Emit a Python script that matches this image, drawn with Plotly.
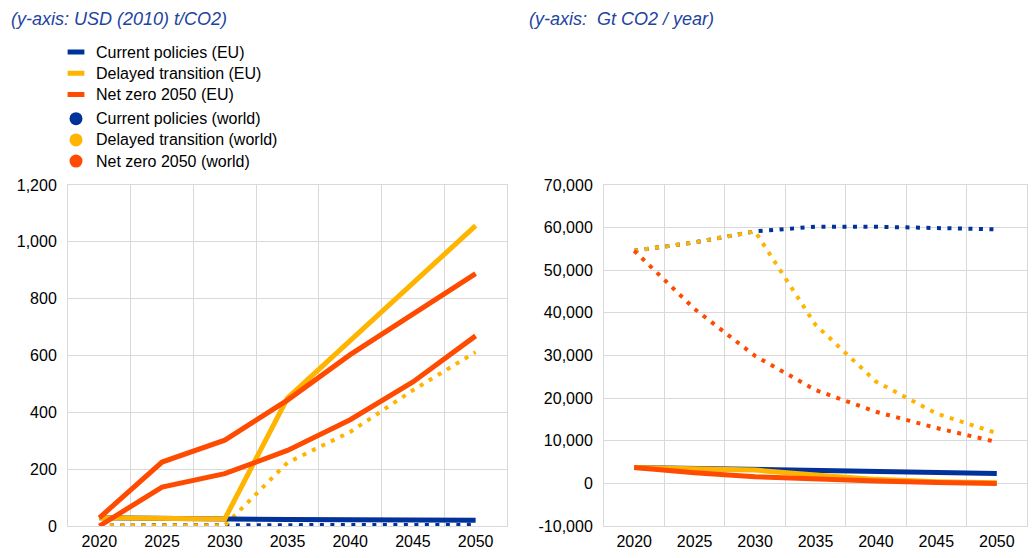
import plotly.graph_objects as go

# ---- data ----
years = [2020, 2025, 2030, 2035, 2040, 2045, 2050]
x_ticks = [2020, 2025, 2030, 2035, 2040, 2045, 2050]
x_tick_labels = ["2020", "2025", "2030", "2035", "2040", "2045", "2050"]

# Left panel: carbon price, USD (2010) / tCO2
price_eu_current = [29, 26, 25, 23, 22, 21, 20]
price_eu_delayed = [29, 26, 25, 450, 652, 855, 1057]
price_eu_netzero = [29, 225, 302, 443, 603, 748, 888]
price_world_current = [2, 2, 2, 3, 3, 3, 4]
price_world_delayed = [2, 2, 2, 223, 331, 478, 612]
price_world_netzero = [0, 137, 184, 266, 374, 507, 669]

# Right panel: emissions
em_eu_current = [3750, 3500, 3280, 2970, 2730, 2500, 2340]
em_eu_delayed = [3750, 3450, 3120, 1950, 940, 390, 150]
em_eu_netzero = [3750, 2500, 1560, 1000, 550, 230, 0]
em_world_current = [54580, 56540, 59120, 60215, 60215, 59820, 59590]
em_world_delayed = [54580, 56540, 59120, 37200, 23900, 16400, 11800]
em_world_netzero = [54580, 40900, 29900, 21900, 16800, 13000, 9700]

left_y_ticks = [0, 200, 400, 600, 800, 1000, 1200]
right_y_ticks = [-10000, 0, 10000, 20000, 30000, 40000, 50000, 60000, 70000]
right_y_labels = ["-10,000", "0", "10,000", "20,000", "30,000", "40,000", "50,000", "60,000", "70,000"]

names = ["Current policies (EU)", "Delayed transition (EU)", "Net zero 2050 (EU)",
         "Current policies (world)", "Delayed transition (world)", "Net zero 2050 (world)"]

BLUE = "#003299"
YELLOW = "#FFB400"
ORANGE = "#FF4B00"
GRID = "#d9d9d9"
TITLE_BLUE = "#1E44A0"
FONT = "Arial, Liberation Sans, sans-serif"
DOT = "4px,6.5px"

# page offset (body margin) and figure size
OFF = 8
W, H = 1036 - 2 * OFF, 558 - 2 * OFF

def px(X):
    return (X - OFF) / W

def py(Y):
    return 1 - (Y - OFF) / H

fig = go.Figure()

def add(x, y, color, dash, width, xa, ya):
    fig.add_trace(go.Scatter(x=x, y=y, mode="lines", showlegend=False,
                             line=dict(color=color, width=width, dash=dash),
                             xaxis=xa, yaxis=ya, hoverinfo="skip"))

# left panel
add(years, price_world_current, BLUE, DOT, 4, "x", "y")
add(years, price_world_delayed, YELLOW, DOT, 4, "x", "y")
add(years, price_eu_current, BLUE, "solid", 5, "x", "y")
add(years, price_eu_delayed, YELLOW, "solid", 5, "x", "y")
add(years, price_world_netzero, ORANGE, "solid", 5, "x", "y")
add(years, price_eu_netzero, ORANGE, "solid", 5, "x", "y")

# right panel
add(years, em_world_current, BLUE, DOT, 4, "x2", "y2")
add(years, em_world_delayed, YELLOW, DOT, 4, "x2", "y2")
add(years, em_world_netzero, ORANGE, DOT, 4, "x2", "y2")
add(years, em_eu_current, BLUE, "solid", 5, "x2", "y2")
add(years, em_eu_delayed, YELLOW, "solid", 5, "x2", "y2")
add(years, em_eu_netzero, ORANGE, "solid", 5, "x2", "y2")

# legend entries
colors = [BLUE, YELLOW, ORANGE]
def lname(s):
    return "<span style='font-size:16px'>" + s + "</span>"

for i in range(3):
    fig.add_trace(go.Scatter(x=[None], y=[None], mode="markers", name=lname(names[i]),
                             legendgroup="eu",
                             marker=dict(symbol="line-ew", size=12, color=colors[i],
                                         line=dict(color=colors[i], width=5))))
for i in range(3):
    fig.add_trace(go.Scatter(x=[None], y=[None], mode="markers", name=lname(names[3 + i]),
                             legendgroup="world",
                             marker=dict(symbol="circle", size=13, color=colors[i],
                                         line=dict(width=0))))

minor_grid = [2022.5, 2027.5, 2032.5, 2037.5, 2042.5, 2047.5]

def xaxis(domain, anchor):
    return dict(domain=domain, anchor=anchor, range=[2017.5, 2052.5], type="linear",
                tickvals=x_ticks, ticktext=x_tick_labels, showgrid=False,
                minor=dict(tickvals=minor_grid, showgrid=True, gridcolor=GRID, gridwidth=1, ticks=""),
                showline=True, mirror=True, linecolor=GRID, linewidth=1,
                ticks="outside", ticklen=1, tickcolor="rgba(0,0,0,0)",
                tickfont=dict(size=16, color="#000000", family=FONT),
                zeroline=False, fixedrange=True, automargin=False)

def yaxis(domain, anchor, rng, tv, tt=None):
    d = dict(domain=domain, anchor=anchor, range=rng, tickvals=tv,
             showgrid=True, gridcolor=GRID, gridwidth=1,
             showline=True, mirror=True, linecolor=GRID, linewidth=1,
             ticks="outside", ticklen=7, tickcolor="rgba(0,0,0,0)",
             tickfont=dict(size=16, color="#000000", family=FONT),
             zeroline=False, fixedrange=True, automargin=False)
    if tt is not None:
        d["ticktext"] = tt
    else:
        d["tickformat"] = ","
    return d

fig.update_layout(
    width=W, height=H,
    margin=dict(l=0, r=0, t=0, b=0),
    paper_bgcolor="white", plot_bgcolor="white",
    font=dict(family=FONT, size=14, color="#000000"),
    xaxis=xaxis([px(68), px(507)], "y"),
    yaxis=yaxis([py(526), py(185)], "x", [0, 1200], left_y_ticks),
    xaxis2=xaxis([px(604), px(1027)], "y2"),
    yaxis2=yaxis([py(526), py(185)], "x2", [-10000, 70000], right_y_ticks, right_y_labels),
    showlegend=True,
    legend=dict(x=px(56), y=py(36.5), xanchor="left", yanchor="top",
                bgcolor="rgba(0,0,0,0)", font=dict(size=14, family=FONT, color="#000000"),
                traceorder="grouped", tracegroupgap=3, itemwidth=30),
    annotations=[
        dict(text="<i>(y-axis: USD (2010) t/CO2)</i>", x=px(10), y=py(8),
             xref="paper", yref="paper", xanchor="left", yanchor="top", showarrow=False,
             borderpad=0, font=dict(size=18, color=TITLE_BLUE, family=FONT)),
        dict(text="<i>(y-axis:  Gt CO2 / year)</i>", x=px(528), y=py(8),
             xref="paper", yref="paper", xanchor="left", yanchor="top", showarrow=False,
             borderpad=0, font=dict(size=18, color=TITLE_BLUE, family=FONT)),
    ],
)

fig.write_html("out.html")
